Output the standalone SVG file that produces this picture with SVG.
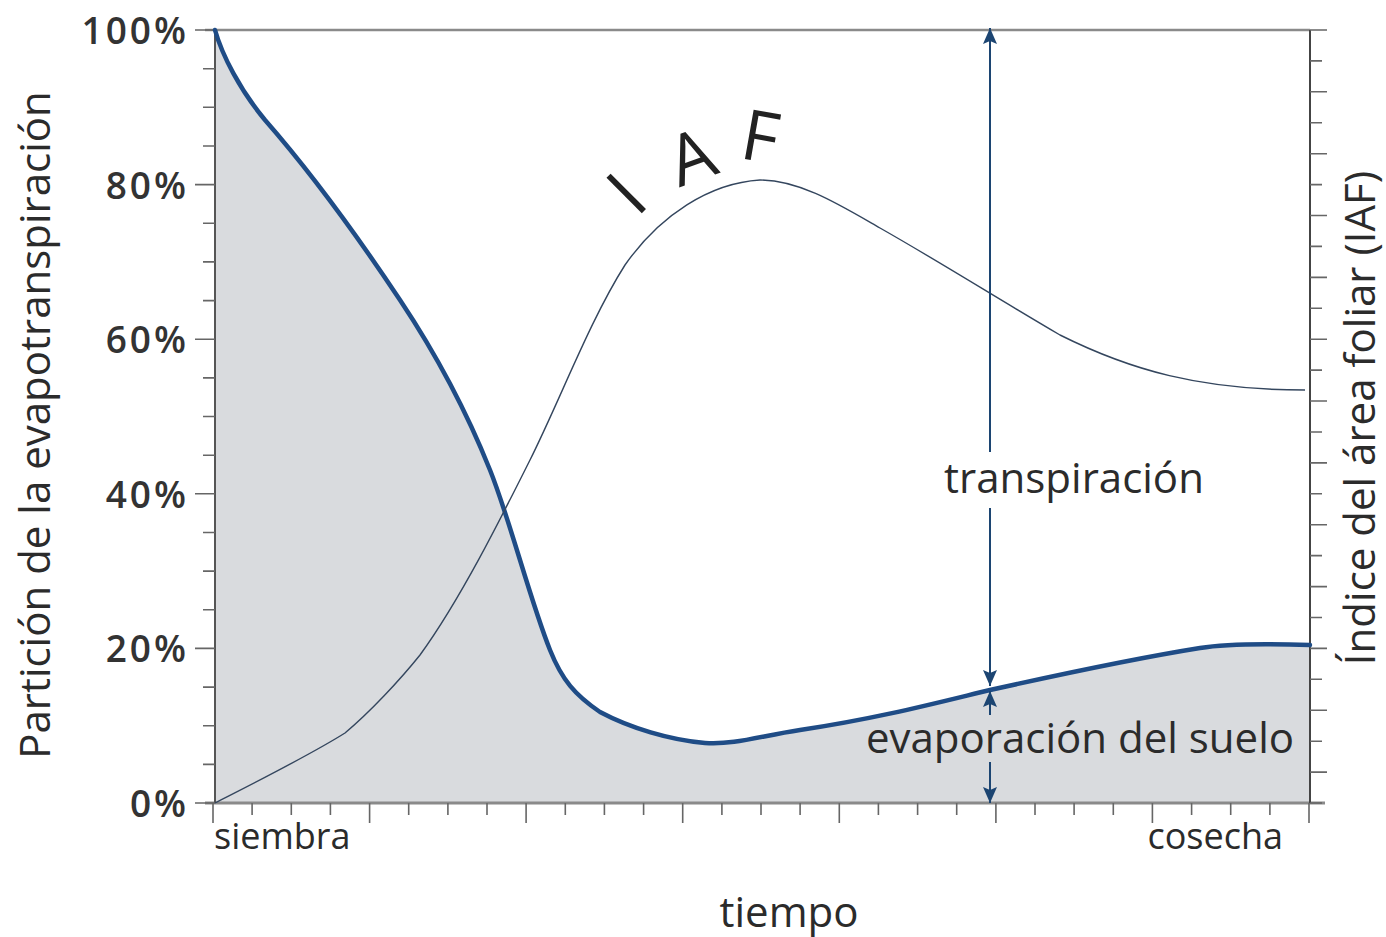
<svg xmlns="http://www.w3.org/2000/svg" width="1386" height="937" viewBox="0 0 1386 937">
<style>
text{font-family:"Open Sans","Noto Sans","Liberation Sans",sans-serif;fill:#2b2b2b}
.tl{font-size:37px;font-weight:600;text-anchor:end;fill:#333;letter-spacing:3px}
.lbl{font-size:42px}
.small{font-size:36px}
.iaf{font-size:70px;text-anchor:middle;fill:#222}
.tick{stroke:#666;stroke-width:1.6}
.arrow{stroke:#1c4572;stroke-width:2;fill:none}
</style>
<defs>
<marker id="ah" viewBox="0 0 16 14" refX="16" refY="7" markerWidth="16" markerHeight="14" markerUnits="userSpaceOnUse" orient="auto-start-reverse">
<path d="M0,0 L16,7 L0,14 L3,7 Z" fill="#1c4572"/>
</marker>
</defs>
<rect width="1386" height="937" fill="#fff"/>
<g id="area">
<path d="M215,30 C222,55 240,90 265,120 C300,160 350,225 400,300 C440,360 470,420 490,470 C510,520 530,600 550,650 C562,680 575,695 600,712 C630,728 670,740 705,743 C735,745 760,736 800,730 C880,718 940,702 990,690 C1080,670 1150,656 1200,648 C1230,643 1280,644 1310,645 L1310,803 L215,803 Z" fill="#d9dbde"/>
</g>
<g id="axes">
<line x1="205" y1="30" x2="1310" y2="30" stroke="#8a8a8a" stroke-width="2.5"/>
<line x1="205" y1="803" x2="1325" y2="803" stroke="#8a8a8a" stroke-width="3"/>
<line x1="215" y1="30" x2="215" y2="803" stroke="#555" stroke-width="2"/>
<line x1="1310" y1="30" x2="1310" y2="803" stroke="#444" stroke-width="2"/>
<g class="tick">
<path d="M195,30H215M203,68.7H215M203,107.3H215M203,146H215M195,184.6H215M203,223.3H215M203,261.9H215M203,300.6H215M195,339.2H215M203,377.9H215M203,416.5H215M203,455.2H215M195,493.8H215M203,532.5H215M203,571.1H215M203,609.8H215M195,648.4H215M203,687.1H215M203,725.7H215M203,764.4H215M195,803H215"/>
<path d="M213,803V823M252.1,803V815M291.3,803V815M330.4,803V815M369.6,803V823M408.7,803V815M447.9,803V815M487,803V815M526.1,803V823M565.3,803V815M604.4,803V815M643.6,803V815M682.7,803V823M721.9,803V815M761,803V815M800.1,803V815M839.3,803V823M878.4,803V815M917.6,803V815M956.7,803V815M995.9,803V823M1035,803V815M1074.1,803V815M1113.3,803V815M1152.4,803V823M1191.6,803V815M1230.7,803V815M1269.9,803V815M1309,803V823"/>
<path d="M1310,30H1327M1310,60.9H1322M1310,91.8H1327M1310,122.8H1322M1310,153.7H1327M1310,184.6H1322M1310,215.5H1327M1310,246.4H1322M1310,277.4H1327M1310,308.3H1322M1310,339.2H1327M1310,370.1H1322M1310,401H1327M1310,432H1322M1310,462.9H1327M1310,493.8H1322M1310,524.7H1327M1310,555.6H1322M1310,586.6H1327M1310,617.5H1322M1310,648.4H1327M1310,679.3H1322M1310,710.2H1327M1310,741.2H1322M1310,772.1H1327M1310,803H1322"/>
</g>
</g>
<g id="curves">
<path id="evap" d="M215,30 C222,55 240,90 265,120 C300,160 350,225 400,300 C440,360 470,420 490,470 C510,520 530,600 550,650 C562,680 575,695 600,712 C630,728 670,740 705,743 C735,745 760,736 800,730 C880,718 940,702 990,690 C1080,670 1150,656 1200,648 C1230,643 1280,644 1310,645" fill="none" stroke="#1f4c86" stroke-width="4.5" stroke-linecap="round"/>
<path id="iafcurve" d="M215,803 C260,780 310,755 345,733 C370,712 400,680 420,655 C460,600 500,520 530,460 C560,400 590,320 625,265 C660,215 710,183 760,180 C800,180 840,205 880,228 C940,262 1000,300 1060,335 C1130,370 1200,390 1305,390" fill="none" stroke="#34465e" stroke-width="1.4"/>
</g>
<g id="connectors">
<line class="arrow" x1="990" y1="452" x2="990" y2="28" marker-end="url(#ah)"/>
<line class="arrow" x1="990" y1="508" x2="990" y2="686" marker-end="url(#ah)"/>
<line class="arrow" x1="990" y1="715" x2="990" y2="691" marker-end="url(#ah)"/>
<line class="arrow" x1="990" y1="762" x2="990" y2="803" marker-end="url(#ah)"/>
</g>
<g id="labels">
<text class="tl" x="189" y="44">100%</text>
<text class="tl" x="189" y="199">80%</text>
<text class="tl" x="189" y="353">60%</text>
<text class="tl" x="189" y="508">40%</text>
<text class="tl" x="189" y="662">20%</text>
<text class="tl" x="189" y="817">0%</text>
<text class="lbl" transform="translate(50,425) rotate(-90)" text-anchor="middle">Partición de la evapotranspiración</text>
<text class="lbl" transform="translate(1375,418) rotate(-90)" text-anchor="middle">Índice del área foliar (IAF)</text>
<text class="small" x="214" y="849">siembra</text>
<text class="small" x="1283" y="849" text-anchor="end">cosecha</text>
<text class="lbl" x="789" y="927" text-anchor="middle">tiempo</text>
<text class="lbl" x="1074" y="493" text-anchor="middle">transpiración</text>
<text class="lbl" x="1080" y="753" text-anchor="middle">evaporación del suelo</text>
</g>
<g id="iaf-label">
<text class="iaf" transform="translate(644,211) rotate(-45)">I</text>
<text class="iaf" transform="translate(700,180) rotate(-20)">A</text>
<text class="iaf" transform="translate(756,161) rotate(10)">F</text>
</g>
</svg>
